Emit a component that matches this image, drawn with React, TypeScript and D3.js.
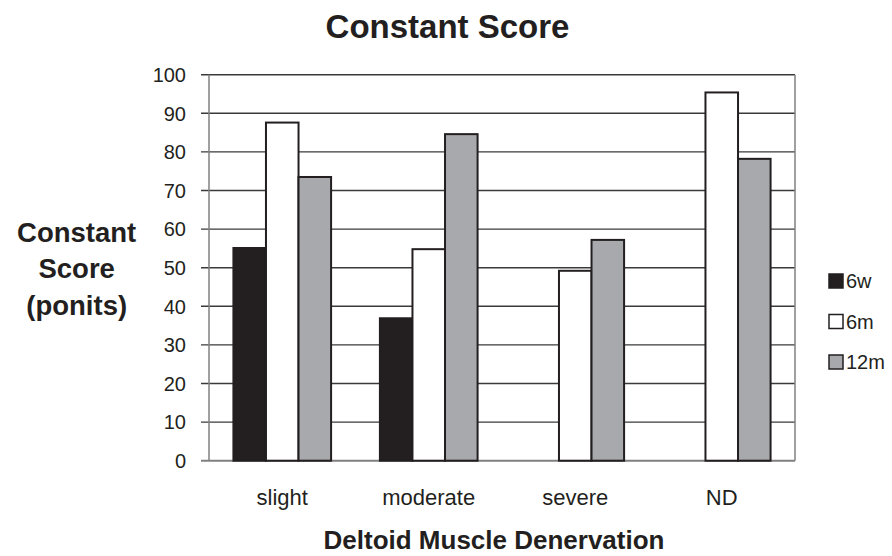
import React from 'react'
import * as d3 from 'd3'

const categories = ['slight', 'moderate', 'severe', 'ND']
const seriesNames = ['6w', '6m', '12m']
const values6w: (number | null)[] = [55.1, 36.9, null, null]
const values6m: (number | null)[] = [87.6, 54.8, 49.2, 95.4]
const values12m: (number | null)[] = [73.5, 84.6, 57.2, 78.2]
const yTicks = [0, 10, 20, 30, 40, 50, 60, 70, 80, 90, 100]
const seriesColors = ['#231f20', '#ffffff', '#a7a9ac']

const W = 892
const H = 556
const plot = { left: 209, right: 795, top: 74.7, bottom: 460.7 }
const font = '"Liberation Sans", Arial, Helvetica, sans-serif'
const ink = '#231f20'

const App: React.FC = () => {
  const seriesValues = [values6w, values6m, values12m]

  const x = d3
    .scaleBand()
    .domain(categories)
    .range([plot.left, plot.right])
    .padding(0)
  const xs = d3
    .scaleBand()
    .domain(seriesNames)
    .range([0, x.bandwidth()])
    .paddingInner(0)
    .paddingOuter(0.75)
  const y = d3.scaleLinear().domain([0, 100]).range([plot.bottom, plot.top])

  const legendY = d3
    .scalePoint()
    .domain(seriesNames)
    .range([281, 362])

  return (
    <svg
      width={W}
      height={H}
      style={{ position: 'absolute', left: 0, top: 0, background: '#fff' }}
      fontFamily={font}
    >
      <rect x={0} y={0} width={W} height={H} fill="#fff" />

      {/* title */}
      <text
        x={447.5}
        y={37.5}
        textAnchor="middle"
        fontSize={33}
        fontWeight="bold"
        fill={ink}
      >
        Constant Score
      </text>

      {/* gridlines + y ticks */}
      {yTicks.map((t) => (
        <g key={t}>
          <line
            x1={plot.left - 8}
            x2={plot.right}
            y1={y(t)}
            y2={y(t)}
            stroke={t === 0 ? '#808080' : '#3a3a3a'}
            strokeWidth={t === 0 ? 2 : 1.4}
          />
          <text
            x={186}
            y={y(t)}
            dy="0.36em"
            textAnchor="end"
            fontSize={20}
            fill={ink}
          >
            {t}
          </text>
        </g>
      ))}

      {/* plot frame */}
      <line
        x1={plot.left}
        x2={plot.left}
        y1={plot.top}
        y2={plot.bottom}
        stroke="#808080"
        strokeWidth={1.5}
      />
      <line
        x1={plot.right}
        x2={plot.right}
        y1={plot.top}
        y2={plot.bottom}
        stroke="#808080"
        strokeWidth={1.5}
      />

      {/* bars */}
      {categories.map((c, ci) =>
        seriesNames.map((s, si) => {
          const v = seriesValues[si][ci]
          if (v == null) return null
          return (
            <rect
              key={c + s}
              x={x(c)! + xs(s)!}
              y={y(v)}
              width={xs.bandwidth()}
              height={y(0) - y(v)}
              fill={seriesColors[si]}
              stroke={ink}
              strokeWidth={2}
            />
          )
        }),
      )}

      {/* category labels */}
      {categories.map((c) => (
        <text
          key={c}
          x={x(c)! + x.bandwidth() / 2}
          y={505}
          textAnchor="middle"
          fontSize={22}
          fill={ink}
        >
          {c}
        </text>
      ))}

      {/* x axis title */}
      <text
        x={plot.left + (plot.right - plot.left) / 2 - 8}
        y={549}
        textAnchor="middle"
        fontSize={26}
        fontWeight="bold"
        fill={ink}
      >
        Deltoid Muscle Denervation
      </text>

      {/* y axis title */}
      {['Constant', 'Score', '(ponits)'].map((line, i) => (
        <text
          key={line}
          x={76.7}
          y={241.5 + i * 36.5}
          textAnchor="middle"
          fontSize={27.5}
          fontWeight="bold"
          fill={ink}
        >
          {line}
        </text>
      ))}

      {/* legend */}
      {seriesNames.map((s, i) => (
        <g key={s}>
          <rect
            x={829}
            y={legendY(s)! - 7}
            width={14}
            height={14}
            fill={seriesColors[i]}
            stroke={ink}
            strokeWidth={1.5}
          />
          <text
            x={846}
            y={legendY(s)! + 7}
            fontSize={20}
            fill={ink}
          >
            {s}
          </text>
        </g>
      ))}
    </svg>
  )
}

export default App
